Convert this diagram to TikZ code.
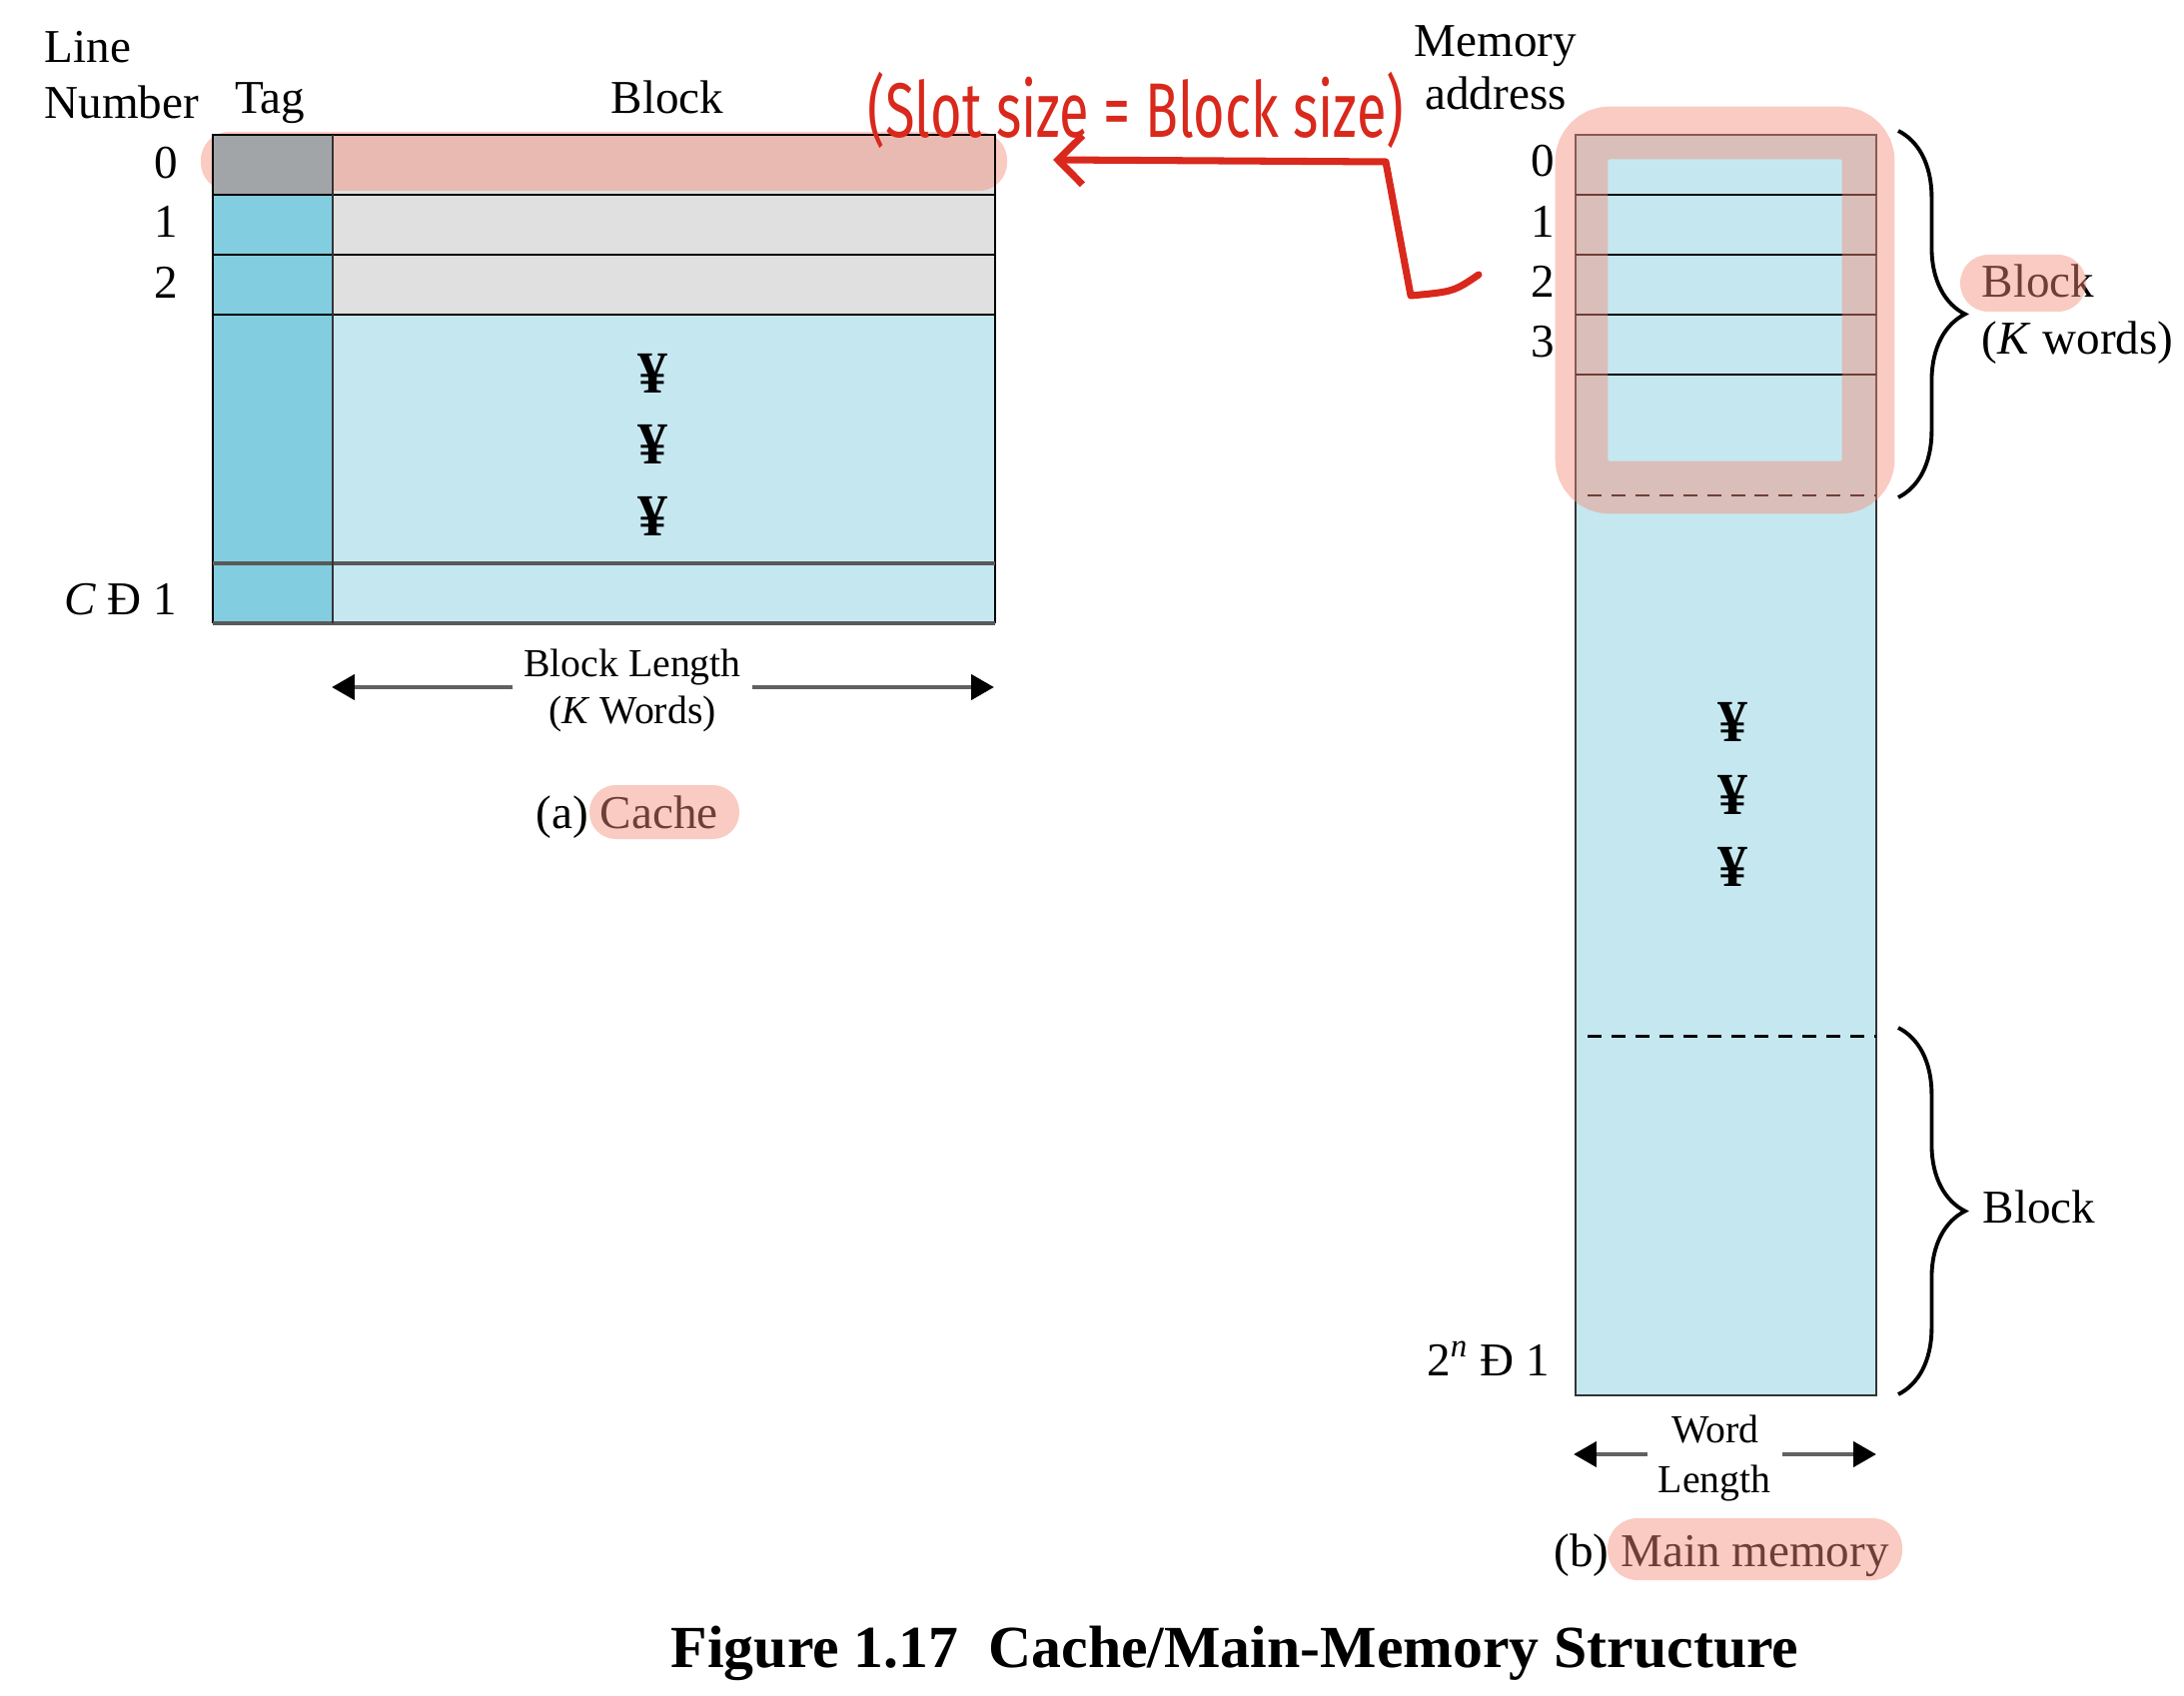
\documentclass[tikz,border=0pt]{standalone}
\usepackage{fontspec}
\setmainfont{Liberation Serif}
\newfontfamily\handfont{Fira Sans}
\usetikzlibrary{arrows.meta,decorations.pathreplacing}
\definecolor{tagblue}{RGB}{130,205,224}
\definecolor{memblue}{RGB}{197,232,240}
\definecolor{rowgray}{RGB}{224,224,224}
\definecolor{taggray}{RGB}{162,165,168}
\definecolor{hilite}{RGB}{245,140,120}
\definecolor{pen}{RGB}{217,40,28}
\tikzset{
  lbl/.style={font=\fontsize{13.4}{16}\selectfont,inner sep=0pt},
  sml/.style={font=\fontsize{11.3}{13}\selectfont,inner sep=0pt},
  yen/.style={font=\fontsize{17}{18}\selectfont\bfseries,inner sep=0pt},
  rowline/.style={draw=black,line width=0.8pt},
  heavyline/.style={draw=black!65,line width=1.4pt},
  dim/.style={draw=black!62,line width=1.4pt,-{Triangle[length=6.5pt,width=7pt,color=black]}},
  hl/.style={fill=hilite,fill opacity=0.45},
  mbrace/.style={decorate,decoration={brace,amplitude=19pt},line width=1.1pt}
}
\begin{document}
\begin{tikzpicture}[x=0.01cm,y=-0.01cm]
\useasboundingbox (0,0) rectangle (2186,1698);

% cache
\fill[tagblue] (213,135) rectangle (333,624);
\fill[memblue] (333,135) rectangle (996,624);
\fill[rowgray] (333,135) rectangle (996,315);
\fill[hl,rounded corners=8pt] (201,132) rectangle (1008,191);
\fill[taggray] (213,135) rectangle (333,195);
\draw[rowline] (213,624) -- (213,135) -- (996,135) -- (996,624);
\foreach \y in {195,255,315} \draw[rowline] (213,\y) -- (996,\y);
\draw[heavyline] (213,564) -- (996,564);
\draw[heavyline] (213,624) -- (996,624);
\draw[draw=black!80,line width=0.8pt] (333,135) -- (333,624);

\node[lbl,anchor=base west] (ln1) at (44,63) {Line};
\node[lbl,anchor=base west] (ln2) at (44,119) {Number};
\node[lbl,anchor=base] (tag) at (270,114) {Tag};
\node[lbl,anchor=base] (blk) at (668,114) {Block};
\node[lbl,anchor=base east] (c0) at (179,179) {0};
\node[lbl,anchor=base east] (c1) at (179,238) {1};
\node[lbl,anchor=base east] (c2) at (179,299) {2};
\node[lbl,anchor=base east] (cl) at (178,616) {\textit{C} Đ 1};
\foreach \y [count=\i] in {374,445,517} \node[yen] (cy\i) at (653,\y) {¥};

\node[sml,anchor=base,inner xsep=3pt] (blen) at (633,678) {Block Length};
\node[sml,anchor=base] (kw) at (633,724) {(\textit{K} Words)};
\coordinate (bl) at (332,688);
\coordinate (br) at (995,688);
\draw[dim] (blen.west |- bl) -- (bl);
\draw[dim] (blen.east |- br) -- (br);
\node[lbl,anchor=base west] (capa) at (536,829) {(a) Cache};

% main memory
\fill[memblue] (1577,135) rectangle (1878,1397);
\draw[draw=black!80,line width=0.8pt] (1577,135) rectangle (1878,1397);
\foreach \y in {195,255,315,375} \draw[rowline] (1577,\y) -- (1878,\y);
\draw[dashed,dash pattern=on 4pt off 2.8pt,line width=0.85pt] (1589,496) -- (1878,496);
\draw[dashed,dash pattern=on 4pt off 2.8pt,line width=0.85pt] (1589,1037) -- (1878,1037);

\node[lbl,anchor=base] (mem) at (1497,57) {Memory};
\node[lbl,anchor=base] (addr) at (1497,110) {address};
\node[lbl,anchor=base east] (m0) at (1557,177) {0};
\node[lbl,anchor=base east] (m1) at (1557,238) {1};
\node[lbl,anchor=base east] (m2) at (1557,298) {2};
\node[lbl,anchor=base east] (m3) at (1557,358) {3};
\node[lbl,anchor=base east] (mn) at (1552,1377) {2\textsuperscript{\itshape n} Đ 1};
\foreach \y [count=\i] in {723,796,868} \node[yen] (my\i) at (1734,\y) {¥};

\draw[mbrace] (1900,131) -- (1900,498);
\draw[mbrace] (1900,1029) -- (1900,1396);
\node[lbl,anchor=base west] (bk1) at (1983,298) {Block};
\node[lbl,anchor=base west] (kw1) at (1983,355) {(\textit{K} words)};
\node[lbl,anchor=base west] (bk2) at (1984,1224) {Block};

\node[sml,anchor=base] (wd) at (1717,1444) {Word};
\node[sml,anchor=base,inner xsep=3pt] (len) at (1716,1494) {Length};
\coordinate (wl) at (1575,1456);
\coordinate (wr) at (1878,1456);
\draw[dim] (len.west |- wl) -- (wl);
\draw[dim] (len.east |- wr) -- (wr);
\node[lbl,anchor=base west] (capb) at (1555,1568) {(b) Main memory};

\node[font=\fontsize{17}{20}\selectfont\bfseries,anchor=base,inner sep=0pt] (fig) at (1236,1669) {Figure 1.17\ \ Cache/Main-Memory Structure};

% highlights
\draw[draw=hilite,draw opacity=0.45,line width=15pt,rounded corners=8pt] (1583,133) rectangle (1870,488);
\fill[hl,rounded corners=8pt] (1962,255) rectangle (2088,312);
\fill[hl,rounded corners=7.5pt] (590,786) rectangle (740,840);
\fill[hl,rounded corners=8.5pt] (1609,1520) rectangle (1904,1582);

% pen note
\node[text=pen,font=\handfont\fontsize{22}{24}\selectfont,xscale=0.7,inner sep=0pt] (note) at (1137,110) {(Slot size = Block size)};
\coordinate (penstart) at (1480,275);
\coordinate (penend) at (1054,160);
\draw[pen,line width=2pt,line cap=round,line join=round,-{Straight Barb[length=7pt,width=14pt]}] (penstart) .. controls (1455,292) .. (1412,296) -- (1387,162) -- (penend);
\end{tikzpicture}
\end{document}
